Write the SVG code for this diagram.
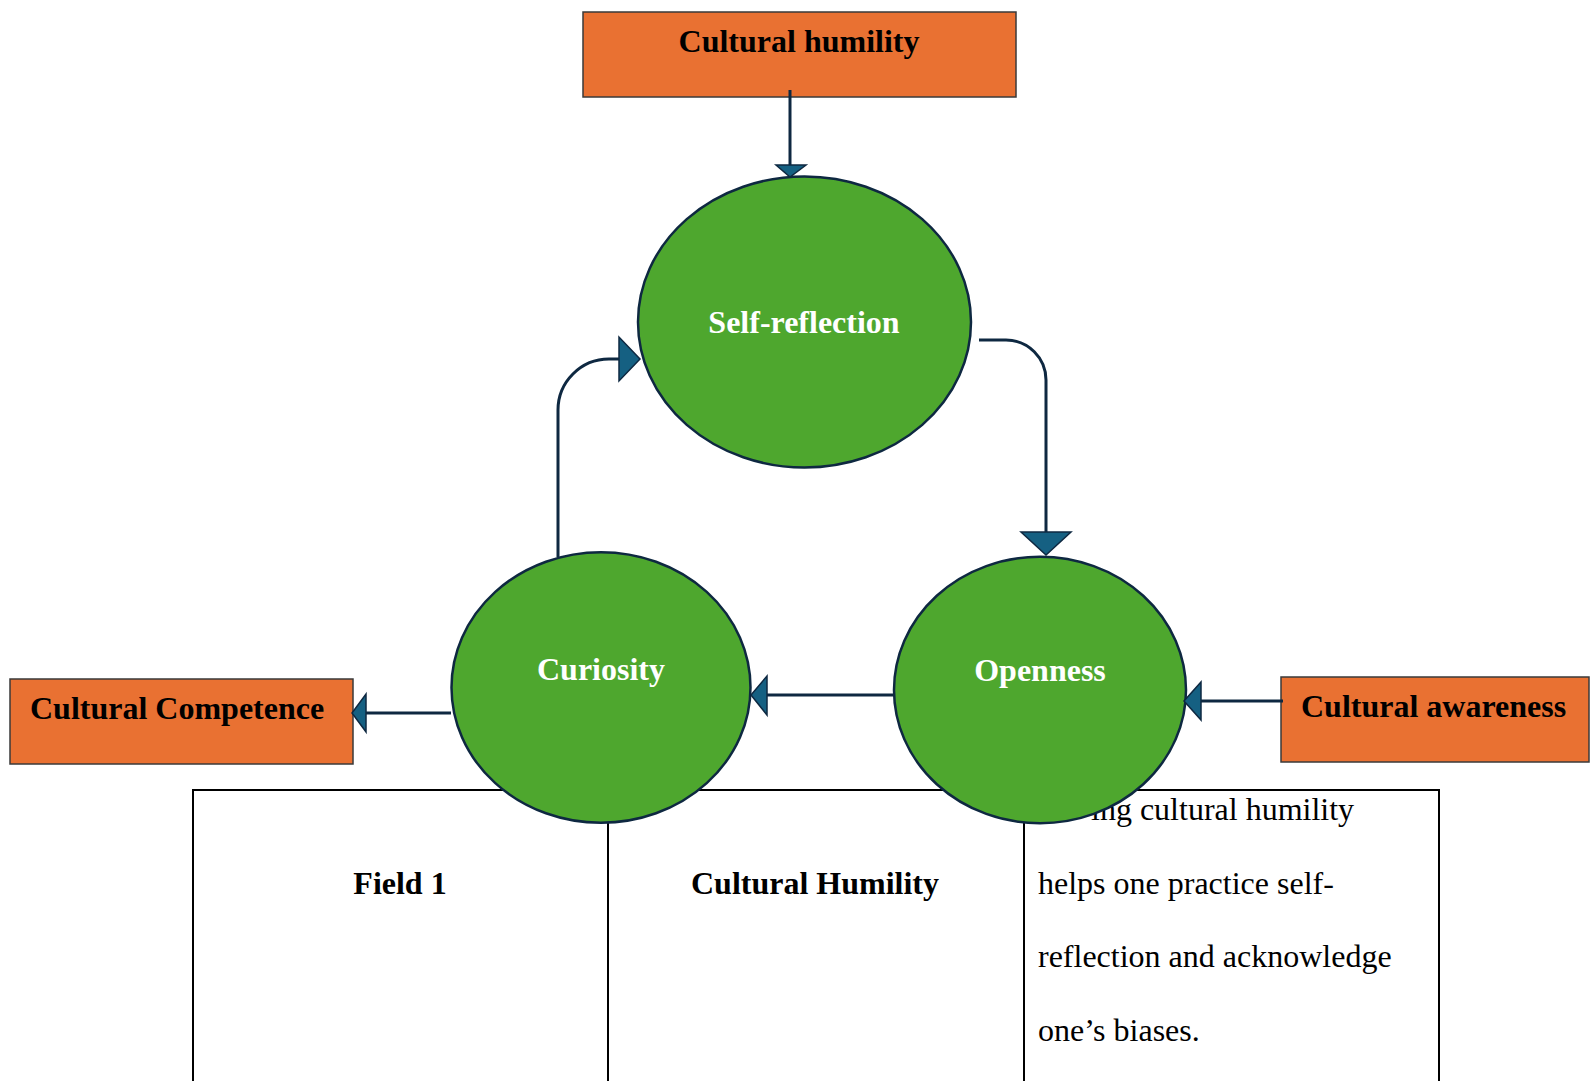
<svg xmlns="http://www.w3.org/2000/svg" width="1596" height="1081" viewBox="0 0 1596 1081">
<style>
  .box{fill:#E97132;stroke:#3a3a3a;stroke-width:1.5}
  .ell{fill:#4EA72E;stroke:#0E2841;stroke-width:2.5}
  .tbl{fill:none;stroke:#000;stroke-width:2}
  .line{fill:none;stroke:#0E2841;stroke-width:3}
  .head{fill:#156082;stroke:#0E2841;stroke-width:1.5;stroke-linejoin:miter}
  .t{font-family:"Liberation Serif","Times New Roman",serif;font-size:32px}
  .b{font-weight:bold}
  .w{fill:#fff}
  .k{fill:#000}
</style>
<rect width="1596" height="1081" fill="#fff"/>
<g id="table">
  <path class="tbl" d="M193,1082 V790 H1439 V1082 M608,790 V1082 M1024,790 V1082"/>
  <text class="t b k" x="400" y="894" text-anchor="middle">Field 1</text>
  <text class="t b k" x="815" y="894" text-anchor="middle">Cultural Humility</text>
  <text class="t k" x="1091" y="820">ing cultural humility</text>
  <text class="t k" x="1038" y="894">helps one practice self-</text>
  <text class="t k" x="1038" y="967">reflection and acknowledge</text>
  <text class="t k" x="1038" y="1041">one’s biases.</text>
</g>
<g id="cultural-humility">
  <rect class="box" x="583" y="12" width="433" height="85"/>
  <text class="t b k" x="799" y="52" text-anchor="middle">Cultural humility</text>
</g>
<g id="cultural-competence">
  <rect class="box" x="10" y="679" width="343" height="85"/>
  <text class="t b k" x="30" y="719">Cultural Competence</text>
</g>
<g id="cultural-awareness">
  <rect class="box" x="1281" y="677" width="308" height="85"/>
  <text class="t b k" x="1301" y="717">Cultural awareness</text>
</g>
<g id="self-reflection">
  <ellipse class="ell" cx="804.5" cy="322" rx="166.5" ry="145.5"/>
  <text class="t b w" x="804" y="333" text-anchor="middle">Self-reflection</text>
</g>
<g id="curiosity">
  <ellipse class="ell" cx="601" cy="687.5" rx="149.5" ry="135.3"/>
  <text class="t b w" x="601" y="680" text-anchor="middle">Curiosity</text>
</g>
<g id="openness">
  <ellipse class="ell" cx="1040" cy="690" rx="146" ry="133.3"/>
  <text class="t b w" x="1040" y="681" text-anchor="middle">Openness</text>
</g>
<g id="connectors">
  <path class="line" d="M790,90 V165"/>
  <polygon class="head" points="776,165 806,165 790,177"/>
  <path class="line" d="M558,557 V410 A51,51 0 0 1 609,359 H620"/>
  <polygon class="head" points="619,337 619,381 640,359"/>
  <path class="line" d="M979,340 H1006 A40,40 0 0 1 1046,380 V532"/>
  <polygon class="head" points="1021,532 1071,532 1046,555"/>
  <path class="line" d="M894,695 H767"/>
  <polygon class="head" points="767,676 767,715 751,695"/>
  <path class="line" d="M451,713 H366"/>
  <polygon class="head" points="366,694 366,732 352,713"/>
  <path class="line" d="M1283,701 H1201"/>
  <polygon class="head" points="1201,682 1201,720 1184,701"/>
</g>
</svg>
